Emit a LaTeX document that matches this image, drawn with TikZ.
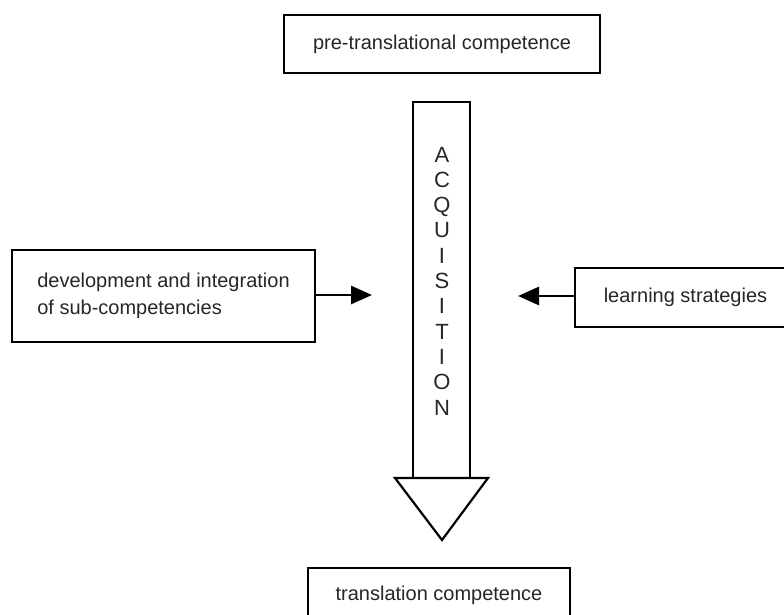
\documentclass[tikz,border=0pt]{standalone}
\usepackage{fontspec}
\setmainfont{Liberation Sans}
\usetikzlibrary{arrows.meta}

\begin{document}
\begin{tikzpicture}[x=1pt,y=1pt,
  box/.style={draw=black, line width=2.7pt, inner sep=0pt, font=\fontsize{20}{27}\selectfont, text=black!85},
  feed/.style={black, line width=2.8pt, -{Triangle[length=21pt,width=18pt]}}]
\useasboundingbox (0,0) rectangle (784,614);
\clip (0,0) rectangle (784,614);

\node [box, minimum width=316pt, minimum height=58pt] (pre) at (442,570) {pre-translational competence};
\node [box, minimum width=303pt, minimum height=92pt, align=left] (dev) at (163.5,318) {development and integration\\of sub-competencies};
\node [box, minimum width=221pt, minimum height=59pt] (learn) at (685.5,316.5) {learning strategies};
\node [box, minimum width=262pt, minimum height=54pt] (trans) at (439,19) {translation competence};

% big arrow
\node [draw, line width=2.2pt, minimum width=57pt, minimum height=376pt, inner sep=0pt] (acq) at (441.5,324) {};
\draw [black, line width=2.2pt] (395,136) -- (488,136) -- (442,74) -- cycle;
\node [font=\fontsize{22}{25.3}\selectfont, align=center, text=black!85] (word) at (442,333) {A\\C\\Q\\U\\I\\S\\I\\T\\I\\O\\N};

\coordinate (devtip) at (372,319);
\coordinate (learntip) at (518,318);
\draw [feed] (dev.east |- devtip) -- (devtip);
\draw [feed] (learn.west |- learntip) -- (learntip);
\end{tikzpicture}
\end{document}
